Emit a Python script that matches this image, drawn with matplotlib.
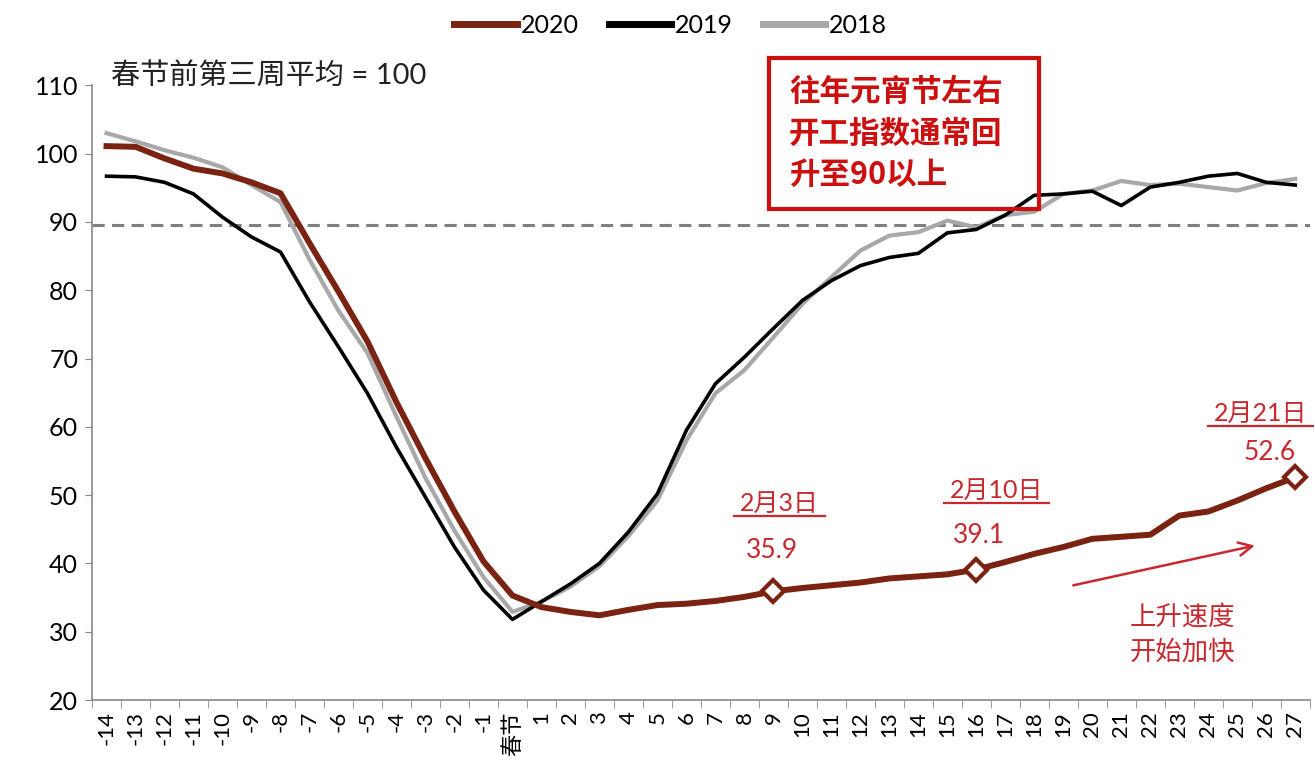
import matplotlib
matplotlib.use("Agg")
import matplotlib.pyplot as plt
from matplotlib.lines import Line2D
from matplotlib.patches import Rectangle

plt.rcParams['font.family'] = ['Lato', 'Noto Sans CJK SC', 'DejaVu Sans']

# Weeks relative to Spring Festival (0 = 春节)
weeks = list(range(-14, 28))
tick_labels = [("春节" if w == 0 else str(w)) for w in weeks]

idx_2020 = [101.1, 101.0, 99.3, 97.8, 97.1, 95.8, 94.2, 86.9, 79.8, 72.5, 63.6,
            55.4, 47.6, 40.3, 35.3, 33.6, 32.9, 32.4, 33.2, 33.9, 34.1, 34.5,
            35.1, 35.9, 36.4, 36.8, 37.2, 37.8, 38.1, 38.4, 39.1, 40.2, 41.4,
            42.4, 43.6, 43.9, 44.2, 47.0, 47.6, 49.2, 51.0, 52.6]
idx_2019 = [96.7, 96.6, 95.8, 94.1, 90.7, 87.8, 85.6, 78.3, 71.7, 64.9, 57.0,
            49.7, 42.4, 36.1, 31.8, 34.4, 37.0, 40.0, 44.6, 50.2, 59.5, 66.3,
            70.2, 74.4, 78.5, 81.4, 83.6, 84.8, 85.4, 88.4, 88.9, 91.0, 93.9,
            94.1, 94.5, 92.4, 95.1, 95.8, 96.7, 97.1, 95.8, 95.4]
idx_2018 = [103.0, 101.8, 100.5, 99.4, 98.0, 95.4, 92.9, 84.5, 77.0, 70.8, 61.5,
            52.5, 44.8, 38.0, 32.9, 34.4, 36.6, 39.6, 44.0, 49.2, 58.0, 64.9,
            68.3, 73.1, 78.0, 81.9, 85.8, 88.0, 88.5, 90.2, 89.2, 91.0, 91.5,
            94.1, 94.6, 96.0, 95.4, 95.6, 95.1, 94.6, 95.7, 96.3]

threshold = 89.5
marked_weeks = [9, 16, 27]
marked_dates = ["2月3日", "2月10日", "2月21日"]

c2020 = "#7a2312"
c2019 = "#000000"
c2018 = "#a8a8a8"
red = "#c8282e"
box_red = "#cc1010"

fig = plt.figure(figsize=(13.15, 7.83), dpi=100)
ax = fig.add_axes([0.070, 0.106, 0.926, 0.785])

ax.axhline(threshold, color="#7f7f7f", lw=2.2, dashes=(4, 2.4), zorder=1)
ax.plot(weeks, idx_2018, color=c2018, lw=3.0, label="2018", zorder=2)
ax.plot(weeks, idx_2019, color=c2019, lw=2.6, label="2019", zorder=3)
ax.plot(weeks, idx_2020, color=c2020, lw=4.3, label="2020", zorder=4)

mvals = [idx_2020[weeks.index(w)] for w in marked_weeks]
ax.plot(marked_weeks, mvals, ls="none", marker="D", ms=11, mfc="white",
        mec=c2020, mew=3, zorder=5)

ax.set_xlim(-14.5, 27.5)
ax.set_ylim(20, 110)
ax.set_yticks(range(20, 111, 10))
ax.set_xticks(weeks)
ax.set_xticklabels(tick_labels, rotation=90, fontsize=16)
ax.set_xticks([w - 0.5 for w in weeks] + [27.5], minor=True)
ax.tick_params(axis="x", which="major", length=0, pad=8)
ax.tick_params(axis="x", which="minor", length=6, color="#888888", direction="out")
ax.tick_params(axis="y", length=5, color="#888888", labelsize=18, pad=5)
for lab in ax.get_xticklabels():
    lab.set_family(['Lato', 'Noto Sans CJK SC'])
for s in ["top", "right"]:
    ax.spines[s].set_visible(False)
for s in ["left", "bottom"]:
    ax.spines[s].set_color("#888888")
    ax.spines[s].set_linewidth(1.2)

ax.text(-13.85, 111.5, "春节前第三周平均 = 100", fontsize=21, color="#222222",
        ha="left", va="center", clip_on=False)

# legend in order 2020, 2019, 2018
fig.legend([Line2D([], [], color=c2020, lw=5), Line2D([], [], color=c2019, lw=5),
            Line2D([], [], color=c2018, lw=5)],
           ["2020", "2019", "2018"], loc="center", bbox_to_anchor=(0.51, 0.968),
           ncol=3, frameon=False, fontsize=18, handlelength=2.5,
           handletextpad=0.15, columnspacing=1.2)

# note box
fig.patches.append(Rectangle((0.585, 0.733), 0.205, 0.193, transform=fig.transFigure,
                             fill=False, edgecolor=box_red, lw=3))
fig.text(0.600, 0.829, "往年元宵节左右\n开工指数通常回\n升至90以上", color=box_red,
         fontsize=22, fontweight="bold", ha="left", va="center", linespacing=1.38,
         family=['Noto Sans CJK SC'])

# point annotations
date_pos = [(9.2, 48.8), (16.7, 50.7), (25.8, 62.0)]
val_pos = [(8.95, 41.9), (16.1, 44.1), (26.1, 56.3)]
date_texts = []
for (dx, dy), (vx, vy), d, v in zip(date_pos, val_pos, marked_dates, mvals):
    t = ax.text(dx, dy, d, color=red, fontsize=18, ha="center", va="center",
                family=['Lato', 'Noto Sans CJK SC'])
    date_texts.append(t)
    ax.text(vx, vy, f"{v:.1f}", color=red, fontsize=19, ha="center", va="center")

ax.annotate("", xy=(25.7, 42.7), xytext=(19.25, 36.7),
            arrowprops=dict(arrowstyle="->", color=red, lw=1.8, mutation_scale=24))
ax.text(23.1, 29.55, "上升速度\n开始加快", color=red, fontsize=19, ha="center",
        va="center", linespacing=1.35, family=['Noto Sans CJK SC'])

# underline the date labels
fig.canvas.draw()
inv = fig.transFigure.inverted()
for t in date_texts:
    bb = t.get_window_extent()
    x0, y0 = inv.transform((bb.x0 - 6, bb.y0 - 1))
    x1, _ = inv.transform((bb.x1 + 6, bb.y0 - 1))
    fig.add_artist(Line2D([x0, x1], [y0, y0], transform=fig.transFigure,
                          color=red, lw=1.6))

fig.savefig("out.png", dpi=100, facecolor="white")
